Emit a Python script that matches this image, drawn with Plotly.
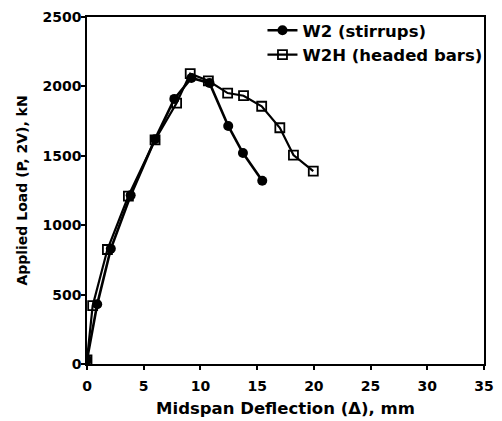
import plotly.graph_objects as go

# W2 (stirrups)
w2_x = [0.0, 0.9, 2.1, 3.85, 6.0, 7.7, 9.2, 10.8, 12.45, 13.75, 15.45]
w2_y = [30, 430, 830, 1215, 1620, 1910, 2060, 2025, 1715, 1520, 1320]

# W2H (headed bars)
w2h_x = [0.0, 0.5, 1.8, 3.65, 6.0, 7.9, 9.1, 10.7, 12.4, 13.8, 15.4, 17.0, 18.2, 19.95]
w2h_y = [30, 420, 825, 1210, 1615, 1880, 2092, 2040, 1952, 1933, 1857, 1702, 1505, 1390]

x_ticks = [0, 5, 10, 15, 20, 25, 30, 35]
y_ticks = [0, 500, 1000, 1500, 2000, 2500]

FONT = "DejaVu Sans, Liberation Sans, Arial, sans-serif"

fig = go.Figure()
fig.add_trace(go.Scatter(
    x=w2h_x, y=w2h_y, mode="lines+markers", name="<b>W2H (headed bars)</b>",
    line=dict(color="black", width=2.2),
    marker=dict(symbol="square-open", size=9, color="black", line=dict(width=1.8)),
))
fig.add_trace(go.Scatter(
    x=w2_x, y=w2_y, mode="lines+markers", name="<b>W2 (stirrups)</b>",
    line=dict(color="black", width=2.6),
    marker=dict(symbol="circle", size=10, color="black"),
))

fig.update_layout(
    width=494, height=413,
    margin=dict(l=79, r=18, t=9, b=57, autoexpand=False),
    paper_bgcolor="white", plot_bgcolor="white",
    font=dict(family=FONT, size=14, color="black"),
    showlegend=True,
    legend=dict(
        x=0.442, y=0.988, xanchor="left", yanchor="top",
        xref="paper", yref="container",
        traceorder="reversed",
        bgcolor="rgba(0,0,0,0)",
        font=dict(family=FONT, size=16.5, color="black"),
        itemwidth=30, tracegroupgap=0,
    ),
    xaxis=dict(
        range=[0, 35], tickvals=x_ticks, ticktext=[f"<b>{v}</b>" for v in x_ticks],
        showgrid=False, zeroline=False, automargin=False,
        showline=True, linecolor="black", linewidth=1.5, mirror=True,
        ticks="outside", ticklen=4, tickwidth=1.5, tickcolor="black",
        tickfont=dict(family=FONT, size=14), ticklabelstandoff=4,
        ticklabeloverflow="allow",
        title=dict(text="<b>Midspan Deflection (Δ), mm</b>", standoff=10,
                   font=dict(family=FONT, size=16.5)),
    ),
    yaxis=dict(
        range=[0, 2500], tickvals=y_ticks, ticktext=[f"<b>{v}</b>" for v in y_ticks],
        showgrid=False, zeroline=False, automargin=False,
        showline=True, linecolor="black", linewidth=1.5, mirror=True,
        ticks="outside", ticklen=4, tickwidth=1.5, tickcolor="black",
        tickfont=dict(family=FONT, size=14), ticklabelstandoff=-3,
        ticklabeloverflow="allow",
        title=dict(text="<b>Applied Load (P, 2V), kN</b>", standoff=12,
                   font=dict(family=FONT, size=14)),
    ),
)

fig.write_html("out.html")
